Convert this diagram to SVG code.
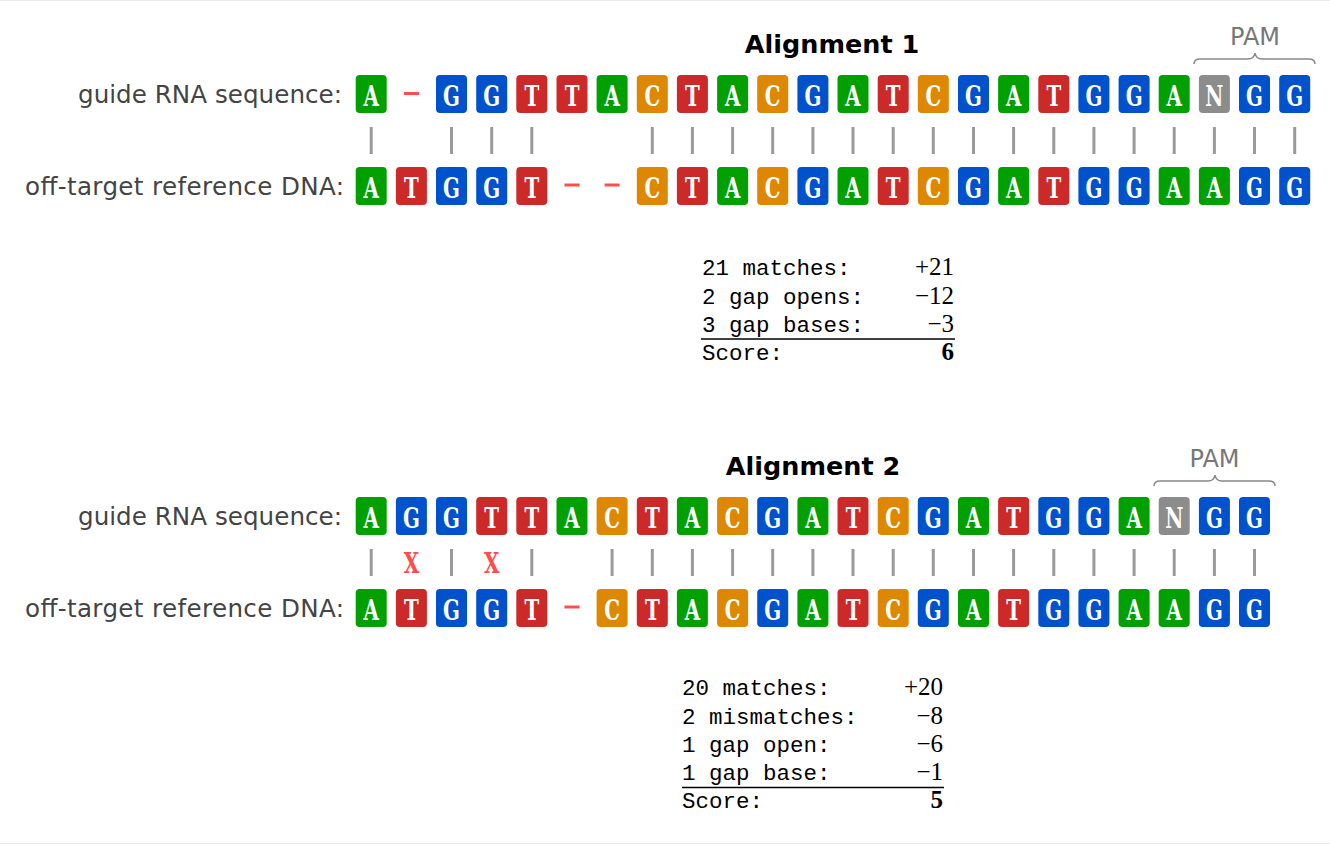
<svg xmlns="http://www.w3.org/2000/svg" width="1330" height="844" viewBox="0 0 1330 844">
<style>
.A{fill:#00a000}.G{fill:#0052cc}.T{fill:#cc2929}.C{fill:#dd8800}.N{fill:#8c8c8c}
.L{font-family:"DejaVu Serif Condensed","DejaVu Serif",serif;font-stretch:condensed;font-weight:bold;font-size:22px;fill:#fff;text-anchor:middle}
.X{font-family:"DejaVu Serif Condensed","DejaVu Serif",serif;font-stretch:condensed;font-weight:bold;font-size:22px;fill:#ff4d4d;text-anchor:middle}
.bar{stroke:#9a9a9a;stroke-width:3}
.gap{stroke:#ff4d4d;stroke-width:3}
.lab{font-family:"DejaVu Sans",sans-serif;font-size:24.6px;fill:#444;text-anchor:end}
.title{font-family:"DejaVu Sans",sans-serif;font-weight:bold;font-size:25.5px;fill:#000;text-anchor:middle}
.pam{font-family:"DejaVu Sans",sans-serif;font-size:24px;fill:#777;text-anchor:middle}
.brace{fill:none;stroke:#888;stroke-width:1.5}
.mono{font-family:"Liberation Mono",monospace;font-size:22.5px;fill:#000}
.num{font-family:"Liberation Serif",serif;font-size:25px;fill:#000;text-anchor:end}
.rule{stroke:#000;stroke-width:1.5}
.edge{stroke:#ececec;stroke-width:1}
</style>
<defs>
<rect id="tile" width="31" height="38" rx="4"/>
</defs>
<line class="edge" x1="0" y1="0.5" x2="1330" y2="0.5"/>
<line class="edge" x1="0" y1="843.5" x2="1330" y2="843.5"/>

<!-- Alignment 1 -->
<g id="a1-title"><text class="title" x="832" y="53">Alignment 1</text></g>
<g id="a1-pam"><text class="pam" x="1255" y="45">PAM</text><path class="brace" d="M1194,64 Q1194,59 1200,59 L1248,59 Q1254,59 1255,53 Q1256,59 1262,59 L1309,59 Q1315,59 1315,64"/></g>
<g id="a1-label-rna"><text class="lab" x="342" y="103" textLength="264">guide RNA sequence:</text></g>
<g id="a1-label-dna"><text class="lab" x="344" y="195" textLength="319">off-target reference DNA:</text></g>

<g id="a1-rna">
<g id="a1r0" transform="translate(355.7,75)"><use href="#tile" class="A"/><text class="L" transform="translate(15.5,31) scale(1,1.3)">A</text></g>
<g id="a1r1"><line class="gap" x1="404" y1="93.5" x2="419" y2="93.5"/></g>
<g id="a1r2" transform="translate(436.0,75)"><use href="#tile" class="G"/><text class="L" transform="translate(15.5,31) scale(1,1.3)">G</text></g>
<g id="a1r3" transform="translate(476.2,75)"><use href="#tile" class="G"/><text class="L" transform="translate(15.5,31) scale(1,1.3)">G</text></g>
<g id="a1r4" transform="translate(516.3,75)"><use href="#tile" class="T"/><text class="L" transform="translate(15.5,31) scale(1,1.3)">T</text></g>
<g id="a1r5" transform="translate(556.5,75)"><use href="#tile" class="T"/><text class="L" transform="translate(15.5,31) scale(1,1.3)">T</text></g>
<g id="a1r6" transform="translate(596.6,75)"><use href="#tile" class="A"/><text class="L" transform="translate(15.5,31) scale(1,1.3)">A</text></g>
<g id="a1r7" transform="translate(636.8,75)"><use href="#tile" class="C"/><text class="L" transform="translate(15.5,31) scale(1,1.3)">C</text></g>
<g id="a1r8" transform="translate(676.9,75)"><use href="#tile" class="T"/><text class="L" transform="translate(15.5,31) scale(1,1.3)">T</text></g>
<g id="a1r9" transform="translate(717.1,75)"><use href="#tile" class="A"/><text class="L" transform="translate(15.5,31) scale(1,1.3)">A</text></g>
<g id="a1r10" transform="translate(757.2,75)"><use href="#tile" class="C"/><text class="L" transform="translate(15.5,31) scale(1,1.3)">C</text></g>
<g id="a1r11" transform="translate(797.4,75)"><use href="#tile" class="G"/><text class="L" transform="translate(15.5,31) scale(1,1.3)">G</text></g>
<g id="a1r12" transform="translate(837.5,75)"><use href="#tile" class="A"/><text class="L" transform="translate(15.5,31) scale(1,1.3)">A</text></g>
<g id="a1r13" transform="translate(877.7,75)"><use href="#tile" class="T"/><text class="L" transform="translate(15.5,31) scale(1,1.3)">T</text></g>
<g id="a1r14" transform="translate(917.8,75)"><use href="#tile" class="C"/><text class="L" transform="translate(15.5,31) scale(1,1.3)">C</text></g>
<g id="a1r15" transform="translate(958.0,75)"><use href="#tile" class="G"/><text class="L" transform="translate(15.5,31) scale(1,1.3)">G</text></g>
<g id="a1r16" transform="translate(998.1,75)"><use href="#tile" class="A"/><text class="L" transform="translate(15.5,31) scale(1,1.3)">A</text></g>
<g id="a1r17" transform="translate(1038.3,75)"><use href="#tile" class="T"/><text class="L" transform="translate(15.5,31) scale(1,1.3)">T</text></g>
<g id="a1r18" transform="translate(1078.4,75)"><use href="#tile" class="G"/><text class="L" transform="translate(15.5,31) scale(1,1.3)">G</text></g>
<g id="a1r19" transform="translate(1118.6,75)"><use href="#tile" class="G"/><text class="L" transform="translate(15.5,31) scale(1,1.3)">G</text></g>
<g id="a1r20" transform="translate(1158.7,75)"><use href="#tile" class="A"/><text class="L" transform="translate(15.5,31) scale(1,1.3)">A</text></g>
<g id="a1r21" transform="translate(1198.9,75)"><use href="#tile" class="N"/><text class="L" transform="translate(15.5,31) scale(1,1.3)">N</text></g>
<g id="a1r22" transform="translate(1239.0,75)"><use href="#tile" class="G"/><text class="L" transform="translate(15.5,31) scale(1,1.3)">G</text></g>
<g id="a1r23" transform="translate(1279.2,75)"><use href="#tile" class="G"/><text class="L" transform="translate(15.5,31) scale(1,1.3)">G</text></g>
</g>

<g id="a1-dna">
<g id="a1d0" transform="translate(355.7,167)"><use href="#tile" class="A"/><text class="L" transform="translate(15.5,31) scale(1,1.3)">A</text></g>
<g id="a1d1" transform="translate(395.9,167)"><use href="#tile" class="T"/><text class="L" transform="translate(15.5,31) scale(1,1.3)">T</text></g>
<g id="a1d2" transform="translate(436.0,167)"><use href="#tile" class="G"/><text class="L" transform="translate(15.5,31) scale(1,1.3)">G</text></g>
<g id="a1d3" transform="translate(476.2,167)"><use href="#tile" class="G"/><text class="L" transform="translate(15.5,31) scale(1,1.3)">G</text></g>
<g id="a1d4" transform="translate(516.3,167)"><use href="#tile" class="T"/><text class="L" transform="translate(15.5,31) scale(1,1.3)">T</text></g>
<g id="a1d5"><line class="gap" x1="564.5" y1="185" x2="579.5" y2="185"/></g>
<g id="a1d6"><line class="gap" x1="604.6" y1="185" x2="619.6" y2="185"/></g>
<g id="a1d7" transform="translate(636.8,167)"><use href="#tile" class="C"/><text class="L" transform="translate(15.5,31) scale(1,1.3)">C</text></g>
<g id="a1d8" transform="translate(676.9,167)"><use href="#tile" class="T"/><text class="L" transform="translate(15.5,31) scale(1,1.3)">T</text></g>
<g id="a1d9" transform="translate(717.1,167)"><use href="#tile" class="A"/><text class="L" transform="translate(15.5,31) scale(1,1.3)">A</text></g>
<g id="a1d10" transform="translate(757.2,167)"><use href="#tile" class="C"/><text class="L" transform="translate(15.5,31) scale(1,1.3)">C</text></g>
<g id="a1d11" transform="translate(797.4,167)"><use href="#tile" class="G"/><text class="L" transform="translate(15.5,31) scale(1,1.3)">G</text></g>
<g id="a1d12" transform="translate(837.5,167)"><use href="#tile" class="A"/><text class="L" transform="translate(15.5,31) scale(1,1.3)">A</text></g>
<g id="a1d13" transform="translate(877.7,167)"><use href="#tile" class="T"/><text class="L" transform="translate(15.5,31) scale(1,1.3)">T</text></g>
<g id="a1d14" transform="translate(917.8,167)"><use href="#tile" class="C"/><text class="L" transform="translate(15.5,31) scale(1,1.3)">C</text></g>
<g id="a1d15" transform="translate(958.0,167)"><use href="#tile" class="G"/><text class="L" transform="translate(15.5,31) scale(1,1.3)">G</text></g>
<g id="a1d16" transform="translate(998.1,167)"><use href="#tile" class="A"/><text class="L" transform="translate(15.5,31) scale(1,1.3)">A</text></g>
<g id="a1d17" transform="translate(1038.3,167)"><use href="#tile" class="T"/><text class="L" transform="translate(15.5,31) scale(1,1.3)">T</text></g>
<g id="a1d18" transform="translate(1078.4,167)"><use href="#tile" class="G"/><text class="L" transform="translate(15.5,31) scale(1,1.3)">G</text></g>
<g id="a1d19" transform="translate(1118.6,167)"><use href="#tile" class="G"/><text class="L" transform="translate(15.5,31) scale(1,1.3)">G</text></g>
<g id="a1d20" transform="translate(1158.7,167)"><use href="#tile" class="A"/><text class="L" transform="translate(15.5,31) scale(1,1.3)">A</text></g>
<g id="a1d21" transform="translate(1198.9,167)"><use href="#tile" class="A"/><text class="L" transform="translate(15.5,31) scale(1,1.3)">A</text></g>
<g id="a1d22" transform="translate(1239.0,167)"><use href="#tile" class="G"/><text class="L" transform="translate(15.5,31) scale(1,1.3)">G</text></g>
<g id="a1d23" transform="translate(1279.2,167)"><use href="#tile" class="G"/><text class="L" transform="translate(15.5,31) scale(1,1.3)">G</text></g>
</g>

<g id="a1-connectors" class="bar">
<line x1="371.2" y1="127" x2="371.2" y2="154"/>
<line x1="451.5" y1="127" x2="451.5" y2="154"/>
<line x1="491.7" y1="127" x2="491.7" y2="154"/>
<line x1="531.8" y1="127" x2="531.8" y2="154"/>
<line x1="652.3" y1="127" x2="652.3" y2="154"/>
<line x1="692.4" y1="127" x2="692.4" y2="154"/>
<line x1="732.6" y1="127" x2="732.6" y2="154"/>
<line x1="772.7" y1="127" x2="772.7" y2="154"/>
<line x1="812.9" y1="127" x2="812.9" y2="154"/>
<line x1="853.0" y1="127" x2="853.0" y2="154"/>
<line x1="893.2" y1="127" x2="893.2" y2="154"/>
<line x1="933.3" y1="127" x2="933.3" y2="154"/>
<line x1="973.5" y1="127" x2="973.5" y2="154"/>
<line x1="1013.6" y1="127" x2="1013.6" y2="154"/>
<line x1="1053.8" y1="127" x2="1053.8" y2="154"/>
<line x1="1093.9" y1="127" x2="1093.9" y2="154"/>
<line x1="1134.1" y1="127" x2="1134.1" y2="154"/>
<line x1="1174.2" y1="127" x2="1174.2" y2="154"/>
<line x1="1214.4" y1="127" x2="1214.4" y2="154"/>
<line x1="1254.5" y1="127" x2="1254.5" y2="154"/>
<line x1="1294.7" y1="127" x2="1294.7" y2="154"/>
</g>

<g id="a1-score">
<text class="mono" x="702" y="275">21 matches:</text>
<text class="mono" x="702" y="303.5">2 gap opens:</text>
<text class="mono" x="702" y="332">3 gap bases:</text>
<text class="mono" x="702" y="360">Score:</text>
<text class="num" x="954" y="275">+21</text>
<text class="num" x="954" y="303.5">−12</text>
<text class="num" x="954" y="332">−3</text>
<text class="num" x="954" y="360" font-weight="bold">6</text>
<line class="rule" x1="701" y1="339" x2="955" y2="339"/>
</g>

<!-- Alignment 2 -->
<g id="a2-title"><text class="title" x="813" y="475">Alignment 2</text></g>
<g id="a2-pam"><text class="pam" x="1214.5" y="467">PAM</text><path class="brace" d="M1154,486 Q1154,481 1160,481 L1208,481 Q1214,481 1215,475 Q1216,481 1222,481 L1269,481 Q1275,481 1275,486"/></g>
<g id="a2-label-rna"><text class="lab" x="342" y="525" textLength="264">guide RNA sequence:</text></g>
<g id="a2-label-dna"><text class="lab" x="344" y="617" textLength="319">off-target reference DNA:</text></g>

<g id="a2-rna">
<g id="a2r0" transform="translate(355.7,497)"><use href="#tile" class="A"/><text class="L" transform="translate(15.5,31) scale(1,1.3)">A</text></g>
<g id="a2r1" transform="translate(395.9,497)"><use href="#tile" class="G"/><text class="L" transform="translate(15.5,31) scale(1,1.3)">G</text></g>
<g id="a2r2" transform="translate(436.0,497)"><use href="#tile" class="G"/><text class="L" transform="translate(15.5,31) scale(1,1.3)">G</text></g>
<g id="a2r3" transform="translate(476.2,497)"><use href="#tile" class="T"/><text class="L" transform="translate(15.5,31) scale(1,1.3)">T</text></g>
<g id="a2r4" transform="translate(516.3,497)"><use href="#tile" class="T"/><text class="L" transform="translate(15.5,31) scale(1,1.3)">T</text></g>
<g id="a2r5" transform="translate(556.5,497)"><use href="#tile" class="A"/><text class="L" transform="translate(15.5,31) scale(1,1.3)">A</text></g>
<g id="a2r6" transform="translate(596.6,497)"><use href="#tile" class="C"/><text class="L" transform="translate(15.5,31) scale(1,1.3)">C</text></g>
<g id="a2r7" transform="translate(636.8,497)"><use href="#tile" class="T"/><text class="L" transform="translate(15.5,31) scale(1,1.3)">T</text></g>
<g id="a2r8" transform="translate(676.9,497)"><use href="#tile" class="A"/><text class="L" transform="translate(15.5,31) scale(1,1.3)">A</text></g>
<g id="a2r9" transform="translate(717.1,497)"><use href="#tile" class="C"/><text class="L" transform="translate(15.5,31) scale(1,1.3)">C</text></g>
<g id="a2r10" transform="translate(757.2,497)"><use href="#tile" class="G"/><text class="L" transform="translate(15.5,31) scale(1,1.3)">G</text></g>
<g id="a2r11" transform="translate(797.4,497)"><use href="#tile" class="A"/><text class="L" transform="translate(15.5,31) scale(1,1.3)">A</text></g>
<g id="a2r12" transform="translate(837.5,497)"><use href="#tile" class="T"/><text class="L" transform="translate(15.5,31) scale(1,1.3)">T</text></g>
<g id="a2r13" transform="translate(877.7,497)"><use href="#tile" class="C"/><text class="L" transform="translate(15.5,31) scale(1,1.3)">C</text></g>
<g id="a2r14" transform="translate(917.8,497)"><use href="#tile" class="G"/><text class="L" transform="translate(15.5,31) scale(1,1.3)">G</text></g>
<g id="a2r15" transform="translate(958.0,497)"><use href="#tile" class="A"/><text class="L" transform="translate(15.5,31) scale(1,1.3)">A</text></g>
<g id="a2r16" transform="translate(998.1,497)"><use href="#tile" class="T"/><text class="L" transform="translate(15.5,31) scale(1,1.3)">T</text></g>
<g id="a2r17" transform="translate(1038.3,497)"><use href="#tile" class="G"/><text class="L" transform="translate(15.5,31) scale(1,1.3)">G</text></g>
<g id="a2r18" transform="translate(1078.4,497)"><use href="#tile" class="G"/><text class="L" transform="translate(15.5,31) scale(1,1.3)">G</text></g>
<g id="a2r19" transform="translate(1118.6,497)"><use href="#tile" class="A"/><text class="L" transform="translate(15.5,31) scale(1,1.3)">A</text></g>
<g id="a2r20" transform="translate(1158.7,497)"><use href="#tile" class="N"/><text class="L" transform="translate(15.5,31) scale(1,1.3)">N</text></g>
<g id="a2r21" transform="translate(1198.9,497)"><use href="#tile" class="G"/><text class="L" transform="translate(15.5,31) scale(1,1.3)">G</text></g>
<g id="a2r22" transform="translate(1239.0,497)"><use href="#tile" class="G"/><text class="L" transform="translate(15.5,31) scale(1,1.3)">G</text></g>
</g>

<g id="a2-dna">
<g id="a2d0" transform="translate(355.7,589)"><use href="#tile" class="A"/><text class="L" transform="translate(15.5,31) scale(1,1.3)">A</text></g>
<g id="a2d1" transform="translate(395.9,589)"><use href="#tile" class="T"/><text class="L" transform="translate(15.5,31) scale(1,1.3)">T</text></g>
<g id="a2d2" transform="translate(436.0,589)"><use href="#tile" class="G"/><text class="L" transform="translate(15.5,31) scale(1,1.3)">G</text></g>
<g id="a2d3" transform="translate(476.2,589)"><use href="#tile" class="G"/><text class="L" transform="translate(15.5,31) scale(1,1.3)">G</text></g>
<g id="a2d4" transform="translate(516.3,589)"><use href="#tile" class="T"/><text class="L" transform="translate(15.5,31) scale(1,1.3)">T</text></g>
<g id="a2d5"><line class="gap" x1="564.5" y1="607" x2="579.5" y2="607"/></g>
<g id="a2d6" transform="translate(596.6,589)"><use href="#tile" class="C"/><text class="L" transform="translate(15.5,31) scale(1,1.3)">C</text></g>
<g id="a2d7" transform="translate(636.8,589)"><use href="#tile" class="T"/><text class="L" transform="translate(15.5,31) scale(1,1.3)">T</text></g>
<g id="a2d8" transform="translate(676.9,589)"><use href="#tile" class="A"/><text class="L" transform="translate(15.5,31) scale(1,1.3)">A</text></g>
<g id="a2d9" transform="translate(717.1,589)"><use href="#tile" class="C"/><text class="L" transform="translate(15.5,31) scale(1,1.3)">C</text></g>
<g id="a2d10" transform="translate(757.2,589)"><use href="#tile" class="G"/><text class="L" transform="translate(15.5,31) scale(1,1.3)">G</text></g>
<g id="a2d11" transform="translate(797.4,589)"><use href="#tile" class="A"/><text class="L" transform="translate(15.5,31) scale(1,1.3)">A</text></g>
<g id="a2d12" transform="translate(837.5,589)"><use href="#tile" class="T"/><text class="L" transform="translate(15.5,31) scale(1,1.3)">T</text></g>
<g id="a2d13" transform="translate(877.7,589)"><use href="#tile" class="C"/><text class="L" transform="translate(15.5,31) scale(1,1.3)">C</text></g>
<g id="a2d14" transform="translate(917.8,589)"><use href="#tile" class="G"/><text class="L" transform="translate(15.5,31) scale(1,1.3)">G</text></g>
<g id="a2d15" transform="translate(958.0,589)"><use href="#tile" class="A"/><text class="L" transform="translate(15.5,31) scale(1,1.3)">A</text></g>
<g id="a2d16" transform="translate(998.1,589)"><use href="#tile" class="T"/><text class="L" transform="translate(15.5,31) scale(1,1.3)">T</text></g>
<g id="a2d17" transform="translate(1038.3,589)"><use href="#tile" class="G"/><text class="L" transform="translate(15.5,31) scale(1,1.3)">G</text></g>
<g id="a2d18" transform="translate(1078.4,589)"><use href="#tile" class="G"/><text class="L" transform="translate(15.5,31) scale(1,1.3)">G</text></g>
<g id="a2d19" transform="translate(1118.6,589)"><use href="#tile" class="A"/><text class="L" transform="translate(15.5,31) scale(1,1.3)">A</text></g>
<g id="a2d20" transform="translate(1158.7,589)"><use href="#tile" class="A"/><text class="L" transform="translate(15.5,31) scale(1,1.3)">A</text></g>
<g id="a2d21" transform="translate(1198.9,589)"><use href="#tile" class="G"/><text class="L" transform="translate(15.5,31) scale(1,1.3)">G</text></g>
<g id="a2d22" transform="translate(1239.0,589)"><use href="#tile" class="G"/><text class="L" transform="translate(15.5,31) scale(1,1.3)">G</text></g>
</g>

<g id="a2-connectors">
<g class="bar">
<line x1="371.2" y1="549" x2="371.2" y2="576"/>
<line x1="451.5" y1="549" x2="451.5" y2="576"/>
<line x1="531.8" y1="549" x2="531.8" y2="576"/>
<line x1="612.1" y1="549" x2="612.1" y2="576"/>
<line x1="652.3" y1="549" x2="652.3" y2="576"/>
<line x1="692.4" y1="549" x2="692.4" y2="576"/>
<line x1="732.6" y1="549" x2="732.6" y2="576"/>
<line x1="772.7" y1="549" x2="772.7" y2="576"/>
<line x1="812.9" y1="549" x2="812.9" y2="576"/>
<line x1="853.0" y1="549" x2="853.0" y2="576"/>
<line x1="893.2" y1="549" x2="893.2" y2="576"/>
<line x1="933.3" y1="549" x2="933.3" y2="576"/>
<line x1="973.5" y1="549" x2="973.5" y2="576"/>
<line x1="1013.6" y1="549" x2="1013.6" y2="576"/>
<line x1="1053.8" y1="549" x2="1053.8" y2="576"/>
<line x1="1093.9" y1="549" x2="1093.9" y2="576"/>
<line x1="1134.1" y1="549" x2="1134.1" y2="576"/>
<line x1="1174.2" y1="549" x2="1174.2" y2="576"/>
<line x1="1214.4" y1="549" x2="1214.4" y2="576"/>
<line x1="1254.5" y1="549" x2="1254.5" y2="576"/>
</g>
<text class="X" transform="translate(411.4,573) scale(1,1.3)">X</text>
<text class="X" transform="translate(491.7,573) scale(1,1.3)">X</text>
</g>

<g id="a2-score">
<text class="mono" x="682" y="695">20 matches:</text>
<text class="mono" x="682" y="723.5">2 mismatches:</text>
<text class="mono" x="682" y="752">1 gap open:</text>
<text class="mono" x="682" y="780">1 gap base:</text>
<text class="mono" x="682" y="808">Score:</text>
<text class="num" x="943" y="695">+20</text>
<text class="num" x="943" y="723.5">−8</text>
<text class="num" x="943" y="752">−6</text>
<text class="num" x="943" y="780">−1</text>
<text class="num" x="943" y="808" font-weight="bold">5</text>
<line class="rule" x1="682" y1="787.5" x2="944" y2="787.5"/>
</g>
</svg>
